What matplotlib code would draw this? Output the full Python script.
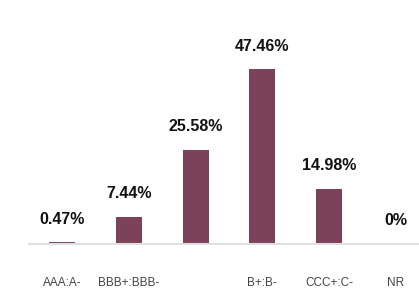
"""
    Rating distribution bar chart
"""
import matplotlib
matplotlib.use("Agg")
import matplotlib.pyplot as plt


### chart data
categories = ["AAA:A-", "BBB+:BBB-", "BB+:BB-", "B+:B-", "CCC+:C-", "NR"]
tick_labels = ["AAA:A-", "BBB+:BBB-", "", "B+:B-", "CCC+:C-", "NR"]
values = [0.47, 7.44, 25.58, 47.46, 14.98, 0]

BAR_COLOR = "#7b425a"

plt.rcParams["font.family"] = ["Liberation Sans", "DejaVu Sans"]

fig = plt.figure(figsize=(4.19, 2.89), dpi=100)
ax = fig.add_axes([29 / 419, 45 / 289, 400 / 419, 184 / 289])

x = list(range(len(categories)))
ax.bar(x, values, width=0.39, color=BAR_COLOR)

# value labels above bars
for xi, v in zip(x, values):
    label = f"{v:g}%" if v else "0%"
    ax.annotate(label, (xi, v), xytext=(0, 16.6), textcoords="offset points",
                ha="center", va="center", fontsize=11.5, fontweight="bold",
                color="#111111")

ax.set_xlim(-0.5, 5.5)
ax.set_ylim(0, 50)
ax.set_xticks(x)
ax.set_xticklabels(tick_labels, fontsize=8.5, color="#444444")
ax.tick_params(axis="x", length=0, pad=24)
ax.set_yticks([])

for side in ["top", "right", "left"]:
    ax.spines[side].set_visible(False)
ax.spines["bottom"].set_color("#e0e0e0")
ax.spines["bottom"].set_linewidth(1.5)

fig.savefig("out.png", dpi=100)
